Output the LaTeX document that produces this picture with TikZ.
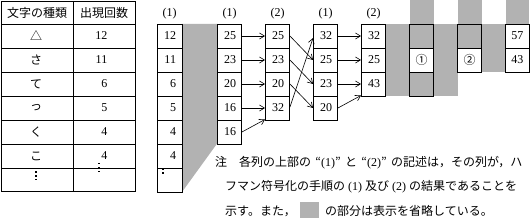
\documentclass[tikz,border=0pt]{standalone}
\usepackage{fontspec}
\setmainfont{Liberation Serif}
\newfontfamily\jp{Noto Sans CJK JP}
\usetikzlibrary{arrows.meta}
\definecolor{hgray}{RGB}{178,178,178}
\newcommand\cnum[1]{\makebox[13pt][r]{#1}}
\begin{document}
\begin{tikzpicture}[x=1pt,y=-1pt,
  cell/.style={draw,line width=0.9pt,minimum width=24pt,minimum height=24pt,inner sep=0pt,font=\fontsize{12}{12}\selectfont},
  gcell/.style={cell,fill=hgray},
  wide/.style={minimum width=25pt},
  arr/.style={-{Straight Barb[length=5pt,width=6pt]},line width=0.6pt},
  lab/.style={inner sep=0pt,font=\fontsize{12}{12}\selectfont},
  jtxt/.style={inner sep=0pt,font=\jp\fontsize{12}{12}\selectfont},
  tline/.style={line width=0.9pt},
  dot/.style={fill=black,minimum size=1.6pt,inner sep=0pt,draw=none,rectangle},
  note/.style={inner sep=0pt,anchor=base west,font=\fontsize{12}{12}\selectfont}
]
\useasboundingbox (0,0) rectangle (530,224);
% gray areas
\fill[hgray] (182,24) -- (217.5,24) -- (217.5,143) -- (182,192) -- cycle;
\fill[hgray] (385.5,24) rectangle (409.5,96);
\fill[hgray] (409.5,0) rectangle (433.5,24);
\fill[hgray] (433.5,24) rectangle (457.5,96);
\fill[hgray] (457.5,0) rectangle (481.5,24);
\fill[hgray] (481.5,24) rectangle (505.5,72);
\fill[hgray] (505.5,0) rectangle (529.3,24);

% table
\draw[tline] (1.5,1) rectangle (135,191);
\draw[tline] (73,1) -- (73,191);
\foreach \y in {24,48,72,96,120,144,168} \draw[tline] (1.5,\y) -- (135,\y);
\node[jtxt] (h1) at (37,12.5) {文字の種類};
\node[jtxt] (h2) at (104,12.5) {出現回数};
\node[jtxt] (k1) at (36,36) {△};
\node[jtxt] (k2) at (36,60) {さ};
\node[jtxt] (k3) at (36,84) {て};
\node[jtxt] (k4) at (36,108) {っ};
\node[jtxt] (k5) at (36,132) {く};
\node[jtxt] (k6) at (36,156) {こ};
\node[lab,anchor=east] (n1) at (107.5,36) {12};
\node[lab,anchor=east] (n2) at (107.5,60) {11};
\node[lab,anchor=east] (n3) at (107.5,84) {6};
\node[lab,anchor=east] (n4) at (107.5,108) {5};
\node[lab,anchor=east] (n5) at (107.5,132) {4};
\node[lab,anchor=east] (n6) at (107.5,156) {4};
\foreach \y in {172.3,176,179.7} \node[dot] at (36,\y) {};
\foreach \y in {163.5,167.5,171.5} \node[dot] at (98.7,\y) {};

% column labels
\node[lab] (l1) at (169.5,14) {(1)};
\node[lab] (l2) at (229.5,14) {(1)};
\node[lab] (l3) at (277.5,14) {(2)};
\node[lab] (l4) at (325.5,14) {(1)};
\node[lab] (l5) at (373.5,14) {(2)};

% column 1
\node[cell,wide] (a1) at (169.5,36) {\cnum{12}};
\node[cell,wide] (a2) at (169.5,60) {\cnum{11}};
\node[cell,wide] (a3) at (169.5,84) {\cnum{6}};
\node[cell,wide] (a4) at (169.5,108) {\cnum{5}};
\node[cell,wide] (a5) at (169.5,132) {\cnum{4}};
\node[cell,wide] (a6) at (169.5,156) {\cnum{4}};
\node[cell,wide] (a7) at (169.5,180) {};
\node[dot] at (162.7,169.5) {};
\node[dot] at (162.7,172.8) {};

% column 2
\node[cell] (b1) at (229.5,36) {\cnum{25}};
\node[cell] (b2) at (229.5,60) {\cnum{23}};
\node[cell] (b3) at (229.5,84) {\cnum{20}};
\node[cell] (b4) at (229.5,108) {\cnum{16}};
\node[cell] (b5) at (229.5,132) {\cnum{16}};

% column 3
\node[cell] (c1) at (277.5,36) {\cnum{25}};
\node[cell] (c2) at (277.5,60) {\cnum{23}};
\node[cell] (c3) at (277.5,84) {\cnum{20}};
\node[cell] (c4) at (277.5,108) {\cnum{32}};

% column 4
\node[cell] (d1) at (325.5,36) {\cnum{32}};
\node[cell] (d2) at (325.5,60) {\cnum{25}};
\node[cell] (d3) at (325.5,84) {\cnum{23}};
\node[cell] (d4) at (325.5,108) {\cnum{20}};

% column 5
\node[cell] (e1) at (373.5,36) {\cnum{32}};
\node[cell] (e2) at (373.5,60) {\cnum{25}};
\node[cell] (e3) at (373.5,84) {\cnum{43}};

% column 6
\node[gcell] (f1) at (421.5,36) {};
\node[cell,fill=white,font=\jp\fontsize{12}{12}\selectfont] (f2) at (421.5,60) {①};
\node[gcell] (f3) at (421.5,84) {};

% column 7
\node[gcell] (g1) at (469.5,36) {};
\node[cell,fill=white,font=\jp\fontsize{12}{12}\selectfont] (g2) at (469.5,60) {②};

% column 8
\node[cell,minimum width=23.8pt] (h81) at (517.4,36) {57};
\node[cell,minimum width=23.8pt] (h82) at (517.4,60) {43};

% arrows
\draw[arr] (b1.east) -- (c1.west);
\draw[arr] (b2.east) -- (c2.west);
\draw[arr] (b3.east) -- (c3.west);
\draw[arr] (b4.east) -- (c4.west);
\draw[arr] (b5.east) -- ([yshift=1pt]c4.south west);
\draw[arr] (c1.east) -- (d2.west);
\draw[arr] (c2.east) -- (d3.west);
\draw[arr] (c3.east) -- (d4.west);
\draw[arr] ([yshift=1pt]c4.east) -- ([yshift=-2pt]d1.west);
\draw[arr] (d1.east) -- (e1.west);
\draw[arr] (d2.east) -- (e2.west);
\draw[arr] (d3.east) -- (e3.west);
\draw[arr] (d4.east) -- ([yshift=1pt]e3.south west);

% note
\node[note] (m1) at (215,166.5) {{\jp 注　各列の上部の}\hspace{4.3pt}{\jp “}(1){\jp ”}\hspace{4.3pt}{\jp と}\hspace{4.3pt}{\jp “}(2){\jp ”}\hspace{4.3pt}{\jp の記述は，その列が，ハ}};
\node[note] (m2) at (225,191) {{\jp フマン符号化の手順の} (1) {\jp 及び} (2) {\jp の結果であることを}};
\node[note] (m3) at (225,215) {{\jp 示す。また，}};
\node[fill=hgray,minimum width=19pt,minimum height=16.5pt,inner sep=0pt] (gbox) at (309.5,210) {};
\node[note] (m4) at (325,215) {{\jp の部分は表示を省略している。}};
\end{tikzpicture}
\end{document}
